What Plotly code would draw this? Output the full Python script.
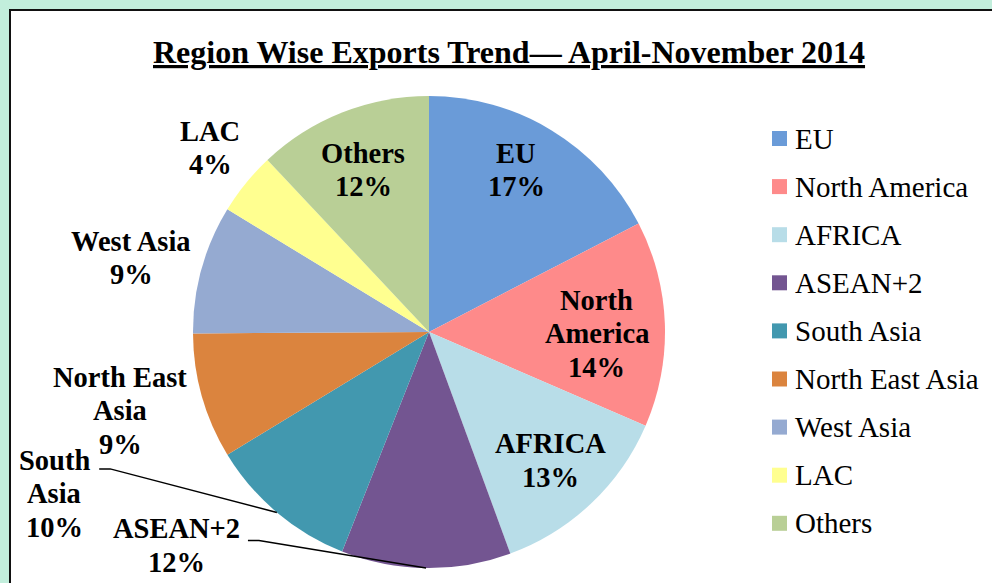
import math
import plotly.graph_objects as go

# ---- data ----
regions = ["EU", "North America", "AFRICA", "ASEAN+2", "South Asia",
           "North East Asia", "West Asia", "LAC", "Others"]
shares = [17.4, 14.1, 12.9, 11.6, 10.3, 8.6, 8.8, 4.3, 12.0]
label_lines = [["EU"], ["North", "America"], ["AFRICA"], ["ASEAN+2"], ["South", "Asia"],
               ["North East", "Asia"], ["West Asia"], ["LAC"], ["Others"]]
colors = ["#6a9bd8", "#fe8a8a", "#b8dde8", "#735591", "#4298af",
          "#db843e", "#95aad1", "#ffff90", "#b9cf96"]
title = "Region Wise Exports Trend— April-November 2014"

W, H = 992, 583
CX, CY, R = 429, 332, 236
LINE = 33.5

def px(x):
    return x / W

def py(y):
    return 1 - y / H

fig = go.Figure()
fig.add_trace(go.Pie(
    labels=regions, values=shares, sort=False, direction="clockwise",
    rotation=0, marker=dict(colors=colors, line=dict(width=0)),
    textinfo="none", hoverinfo="label+percent", showlegend=False,
    domain=dict(x=[px(CX - R), px(CX + R)], y=[py(CY + R), py(CY - R)]),
))

# label placement: (radius factor, angle offset in deg) relative to slice middle
placement = {
    "EU": (0.78, -3), "North America": (0.71, 2.5), "AFRICA": (0.75, 0),
    "ASEAN+2": (1.40, 49), "South Asia": (1.73, 26.5),
    "North East Asia": (1.35, 1.5), "West Asia": (1.30, -1.5),
    "LAC": (1.21, 1), "Others": (0.74, -0.5),
}
leader = {"ASEAN+2", "South Asia"}

total = sum(shares)
cum = 0.0
annotations = []
shapes = []
for name, val, lines in zip(regions, shares, label_lines):
    mid = (cum + val / 2) / total * 360.0
    cum += val
    rf, off = placement[name]
    a = math.radians(mid + off)
    lx = CX + rf * R * math.sin(a)
    ly = CY - rf * R * math.cos(a)
    pct = round(val / total * 100)
    all_lines = lines + [f"{pct}%"]
    n = len(all_lines)
    for i, t in enumerate(all_lines):
        yy = ly + (i - (n - 1) / 2) * LINE
        annotations.append(dict(
            x=px(lx), y=py(yy), xref="paper", yref="paper",
            text=f"<b>{t}</b>", showarrow=False,
            xanchor="center", yanchor="middle",
            font=dict(family="Liberation Serif", size=28.5, color="black"),
        ))
    if name in leader:
        am = math.radians(mid)
        ex = CX + R * math.sin(am)
        ey = CY - R * math.cos(am)
        if name == "South Asia":
            sx, sy = lx + 45, ly - 25
        else:
            sx, sy = lx + 71, ly - 5
        shapes.append(dict(type="path", xref="paper", yref="paper",
                           path=f"M {px(sx)} {py(sy)} L {px(sx + 11)} {py(sy)} L {px(ex)} {py(ey)}",
                           line=dict(color="black", width=1.5)))

# white inner frame
shapes.insert(0, dict(type="rect", xref="paper", yref="paper", layer="below",
                      x0=px(10), x1=1.02, y0=-0.02, y1=py(10),
                      fillcolor="white", line=dict(color="#111111", width=2)))

# custom legend
for i, (name, col) in enumerate(zip(regions, colors)):
    yc = 138.5 + i * 48.1
    shapes.append(dict(type="rect", xref="paper", yref="paper",
                       x0=px(772), x1=px(787), y0=py(yc + 7.5), y1=py(yc - 7.5),
                       fillcolor=col, line=dict(width=0)))
    annotations.append(dict(
        x=px(793), y=py(yc), xref="paper", yref="paper", text=name,
        showarrow=False, xanchor="left", yanchor="middle",
        font=dict(family="Liberation Serif", size=29, color="black"),
    ))

annotations.append(dict(
    x=px(508.5), y=py(52), xref="paper", yref="paper",
    text=f"<b><u>{title}</u></b>", showarrow=False,
    xanchor="center", yanchor="middle",
    font=dict(family="Liberation Serif", size=32, color="black"),
))

fig.update_layout(
    width=W, height=H, margin=dict(l=0, r=0, t=0, b=0),
    paper_bgcolor="#c2eedc", plot_bgcolor="white",
    annotations=annotations, shapes=shapes,
)
fig.write_html("out.html")
